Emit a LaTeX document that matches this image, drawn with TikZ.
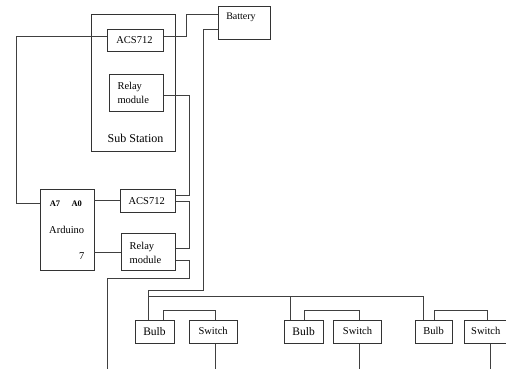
\documentclass[tikz,border=0pt]{standalone}
\usepackage{fontspec}
\setmainfont{Liberation Serif}
\begin{document}
\begin{tikzpicture}[x=1pt,y=-1pt,
  box/.style={draw=black!80,line width=0.8pt,rectangle,inner sep=0pt},
  wire/.style={draw=black!75,line width=0.8pt},
  lbl/.style={inner sep=0pt,font=\fontsize{10.5}{14}\selectfont},
  small/.style={inner sep=0pt,font=\bfseries\fontsize{8.5}{10}\selectfont}]
\useasboundingbox (0,0) rectangle (506,369);
\clip (0,0) rectangle (506,369);
% boxes
\node[box,minimum width=84pt,minimum height=137.7pt] (sub) at (133.7,82.85) {};
\node[box,minimum width=56pt,minimum height=22.4pt] (acs1) at (135.3,40.5) {};
\node[box,minimum width=54pt,minimum height=37.5pt] (relay1) at (136.3,92.8) {};
\node[box,minimum width=51.7pt,minimum height=33.3pt] (battery) at (244.15,22.65) {};
\node[box,minimum width=53.3pt,minimum height=81.4pt] (arduino) at (67.35,230) {};
\node[box,minimum width=55.7pt,minimum height=23pt] (acs2) at (147.85,200.8) {};
\node[box,minimum width=54pt,minimum height=37.4pt] (relay2) at (148.7,252) {};
\node[box,minimum width=39pt,minimum height=22.6pt] (bulb1) at (154.5,332) {};
\node[box,minimum width=48.3pt,minimum height=22.6pt] (switch1) at (213.15,332) {};
\node[box,minimum width=39.3pt,minimum height=22.6pt] (bulb2) at (303.65,332) {};
\node[box,minimum width=48.4pt,minimum height=22.6pt] (switch2) at (357.5,332) {};
\node[box,minimum width=37.3pt,minimum height=22.6pt] (bulb3) at (433.65,332) {};
\node[box,minimum width=44pt,minimum height=22.6pt] (switch3) at (486,332) {};
% texts
\node[inner sep=0pt,font=\fontsize{12}{14}\selectfont] (tsub) at (135.5,138) {Sub Station};
\node[lbl] (tacs1) at (134.5,40.5) {ACS712};
\node[lbl,align=left,anchor=west] (trelay1) at (117.3,92.5) {Relay\\module};
\node[inner sep=0pt,font=\fontsize{10}{12}\selectfont] (tbat) at (241,17) {Battery};
\node[small] (ta7) at (55,203.3) {A7};
\node[small] (ta0) at (76.7,203.3) {A0};
\node[lbl] (tard) at (66.7,230) {Arduino};
\node[lbl] (t7) at (81.7,256) {7};
\node[lbl] (tacs2) at (146.7,201) {ACS712};
\node[lbl,align=left,anchor=west] (trelay2) at (129.5,253) {Relay\\module};
\node[inner sep=0pt,font=\fontsize{11.5}{14}\selectfont] (tb1) at (154.5,331.7) {Bulb};
\node[lbl] (ts1) at (213.15,330.7) {Switch};
\node[inner sep=0pt,font=\fontsize{11.5}{14}\selectfont] (tb2) at (303.65,331.7) {Bulb};
\node[lbl] (ts2) at (357.5,330.7) {Switch};
\node[inner sep=0pt,font=\fontsize{10.5}{14}\selectfont] (tb3) at (433.65,331) {Bulb};
\node[lbl] (ts3) at (485.8,330.7) {Switch};
% wire coordinates
\coordinate (w1) at (16.7,36.7);
\coordinate (ya7) at (0,203.3);
\coordinate (c2a) at (186,36);
\coordinate (c2b) at (186,14.3);
\coordinate (c3a) at (203,29.3);
\coordinate (c3b) at (203,290);
\coordinate (c3c) at (148.3,290);
\coordinate (bus) at (148.3,296);
\coordinate (d2) at (290.7,296);
\coordinate (d3) at (423.3,296);
\coordinate (c4a) at (189.3,95);
\coordinate (c4b) at (189.3,195);
\coordinate (c5a) at (189.3,201.7);
\coordinate (c5b) at (189.3,248.3);
\coordinate (c6a) at (189.3,260);
\coordinate (c6b) at (189.3,278.3);
\coordinate (c6c) at (107.3,278.3);
\coordinate (c6d) at (107.3,369);
\coordinate (g1a) at (163.3,310);
\coordinate (g1b) at (215.7,310);
\coordinate (e1) at (215.7,369);
\coordinate (g2a) at (304,310);
\coordinate (g2b) at (359.3,310);
\coordinate (e2) at (359.3,369);
\coordinate (g3a) at (434.3,310);
\coordinate (g3b) at (487.7,310);
\coordinate (g3c) at (490.7,343.3);
\coordinate (e3) at (490.7,369);
% wires
\draw[wire] (acs1.west |- w1) -- (w1) |- (arduino.west |- ya7);
\draw[wire] (acs1.east |- c2a) -- (c2a) -- (c2b) -- (battery.west |- c2b);
\draw[wire] (battery.west |- c3a) -- (c3a) -- (c3b) -- (c3c) -- (bulb1.north -| c3c);
\draw[wire] (bus) -- (d3) -- (bulb3.north -| d3);
\draw[wire] (d2) -- (bulb2.north -| d2);
\draw[wire] (relay1.east |- c4a) -- (c4a) -- (c4b) -- (acs2.east |- c4b);
\draw[wire] (acs2.east |- c5a) -- (c5a) -- (c5b) -- (relay2.east |- c5b);
\draw[wire] (relay2.east |- c6a) -- (c6a) -- (c6b) -- (c6c) -- (c6d);
\draw[wire] (arduino.east |- acs2.west) -- (acs2.west);
\draw[wire] (arduino.east |- relay2.west) -- (relay2.west);
\draw[wire] (bulb1.north -| g1a) -- (g1a) -- (g1b) -- (switch1.north -| g1b);
\draw[wire] (switch1.south -| e1) -- (e1);
\draw[wire] (bulb2.north -| g2a) -- (g2a) -- (g2b) -- (switch2.north -| g2b);
\draw[wire] (switch2.south -| e2) -- (e2);
\draw[wire] (bulb3.north -| g3a) -- (g3a) -- (g3b) -- (switch3.north -| g3b);
\draw[wire] (switch3.south -| g3c) -- (e3);
\end{tikzpicture}
\end{document}
